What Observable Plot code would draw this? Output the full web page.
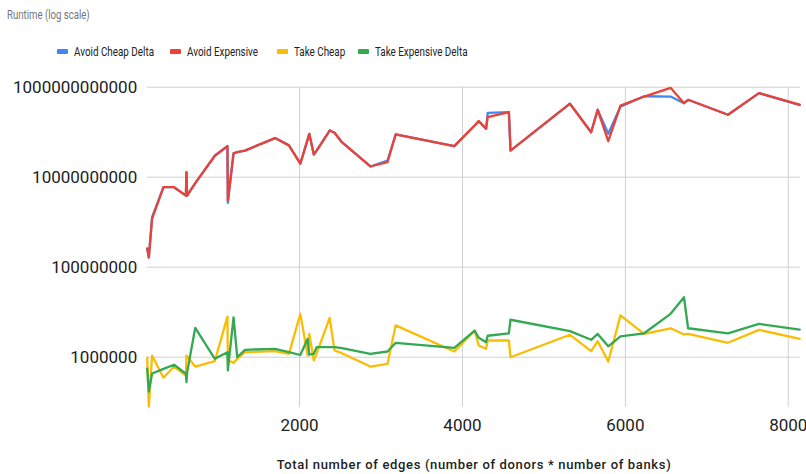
<!DOCTYPE html>
<html>
<head>
<meta charset="utf-8">
<script src="https://cdn.jsdelivr.net/npm/d3@7"></script>
<script src="https://cdn.jsdelivr.net/npm/@observablehq/plot@0.6"></script>
<style>
  html, body { margin: 0; padding: 0; background: #fff; }
  #wrap { position: relative; width: 806px; height: 474px; overflow: hidden; }
  #title { position: absolute; left: 7px; top: 8px; font: 12px "Roboto", sans-serif; color: #757575; white-space: nowrap; transform: scaleX(0.8); transform-origin: 0 50%; }
  .leg { position: absolute; top: 43px; font: 13.5px "Roboto", sans-serif; color: #222; white-space: nowrap; transform: scaleX(0.73); transform-origin: 0 50%; }
  .sw { position: absolute; top: 49px; width: 11px; height: 5px; border-radius: 1px; }
  #xtitle { position: absolute; top: 457px; left: 0; width: 948px; text-align: center; font: 500 13px "Roboto", sans-serif; letter-spacing: 0.65px; color: #222; white-space: nowrap; }
  #chart { position: absolute; left: 0; top: 0; }
</style>
</head>
<body>
<div id="wrap">
  <div id="chart"></div>
  <div id="title">Runtime (log scale)</div>
  <div id="legend"></div>
  <div id="xtitle">Total number of edges (number of donors * number of banks)</div>
</div>
<script>
// Total number of edges for each run
const edges = [130, 150, 190, 330, 460, 605, 612, 620, 720, 960, 1115, 1120, 1190, 1235, 1330,
  1700, 1870, 2010, 2100, 2120, 2175, 2210, 2370, 2430, 2520, 2870, 3080, 3180, 3900, 4150,
  4200, 4290, 4310, 4570, 4590, 5320, 5580, 5660, 5790, 5940, 6230, 6555, 6720, 6770, 7260,
  7640, 8140];

// Runtime of each strategy
const avoidCheapDelta = [2.6e8, 1.65e8, 1.3e9, 6.0e9, 6.0e9, 3.9e9, 1.29e10, 3.9e9, 7.4e9, 3.0e10,
  4.9e10, 2.7e9, 3.4e10, 3.6e10, 3.9e10, 7.4e10, 5.1e10, 2.0e10, 6.9e10, 9.2e10, 3.2e10, 3.9e10,
  1.09e11, 9.7e10, 6.0e10, 1.73e10, 2.35e10, 8.9e10, 4.9e10, 1.41e11, 1.76e11, 1.19e11, 2.7e11,
  2.8e11, 3.9e10, 4.3e11, 1.0e11, 3.15e11, 9.2e10, 3.7e11, 6.3e11, 6.2e11, 4.4e11, 5.25e11,
  2.44e11, 7.4e11, 4.0e11];
const avoidExpensive = [2.6e8, 1.65e8, 1.2e9, 6.0e9, 6.0e9, 3.9e9, 1.29e10, 3.9e9, 7.4e9, 3.0e10,
  4.9e10, 3.0e9, 3.4e10, 3.6e10, 3.9e10, 7.4e10, 5.1e10, 2.0e10, 6.9e10, 9.2e10, 3.2e10, 3.9e10,
  1.09e11, 9.7e10, 6.0e10, 1.73e10, 2.15e10, 8.9e10, 4.9e10, 1.41e11, 1.76e11, 1.19e11, 2.15e11,
  2.8e11, 3.9e10, 4.3e11, 1.0e11, 3.15e11, 6.3e10, 3.9e11, 6.2e11, 9.7e11, 4.4e11, 5.25e11,
  2.44e11, 7.4e11, 4.1e11];
const takeCheap = [9.8e5, 8.0e4, 1.09e6, 3.5e5, 6.2e5, 3.9e5, 1.09e6, 1.05e6, 6.2e5, 8.2e5,
  8.0e6, 8.7e5, 7.4e5, 9.2e5, 1.29e6, 1.36e6, 1.19e6, 9.2e6, 1.09e6, 3.3e6, 8.5e5, 1.22e6,
  7.5e6, 1.41e6, 1.23e6, 6.2e5, 7.1e5, 5.1e6, 1.34e6, 3.9e6, 1.82e6, 1.54e6, 2.35e6, 2.35e6,
  1.0e6, 3.15e6, 1.36e6, 2.27e6, 8.0e5, 8.5e6, 3.3e6, 4.4e6, 3.2e6, 3.3e6, 2.09e6, 4.06e6, 2.56e6];
const takeExpensiveDelta = [5.6e5, 1.73e5, 4.35e5, 5.5e5, 6.8e5, 4.3e5, 2.8e5, 4.6e5, 4.5e6, 9.2e5,
  1.29e6, 5.1e5, 7.7e6, 1.0e6, 1.46e6, 1.54e6, 1.29e6, 1.12e6, 2.56e6, 1.14e6, 1.19e6, 1.67e6,
  1.67e6, 1.67e6, 1.6e6, 1.19e6, 1.34e6, 2.09e6, 1.62e6, 3.9e6, 2.7e6, 2.15e6, 3.0e6, 3.4e6,
  6.8e6, 3.8e6, 2.44e6, 3.3e6, 1.75e6, 2.9e6, 3.4e6, 9.2e6, 2.15e7, 4.4e6, 3.4e6, 5.5e6, 4.1e6];

const seriesNames = ["Avoid Cheap Delta", "Avoid Expensive", "Take Cheap", "Take Expensive Delta"];
const seriesColors = ["#4285f4", "#ea4335", "#fbbc04", "#34a853"];
const seriesValues = [avoidCheapDelta, avoidExpensive, takeCheap, takeExpensiveDelta];

const xTicks = [2000, 4000, 6000, 8000];
const yTicks = [1e6, 1e8, 1e10, 1e12];

const rowsFor = (vals) => edges.map((x, i) => ({x, y: vals[i]}));

const chart = Plot.plot({
  width: 806,
  height: 474,
  marginTop: 86.7,
  marginLeft: 146.7,
  marginRight: 6,
  marginBottom: 67.3,
  style: {fontFamily: "Roboto, sans-serif", fontSize: "17px", color: "#222", background: "transparent"},
  x: {domain: [130, 8150]},
  y: {type: "log", domain: [7.75e4, 1e12]},
  marks: [
    Plot.gridY(yTicks, {stroke: "#d0d0d0", strokeOpacity: 1, strokeWidth: 1}),
    Plot.gridX(xTicks, {stroke: "#d0d0d0", strokeOpacity: 1, strokeWidth: 1}),
    Plot.axisX(xTicks, {tickSize: 0, tickPadding: 12, label: null, tickFormat: d => String(d)}),
    Plot.axisY(yTicks, {tickSize: 0, tickPadding: 10, label: null, tickFormat: d => String(d)}),
    ...seriesValues.map((vals, i) =>
      Plot.line(rowsFor(vals), {x: "x", y: "y", stroke: seriesColors[i], strokeWidth: 2.3})
    )
  ]
});
document.getElementById("chart").appendChild(chart);

// Legend row
const legendPos = [57, 170, 277, 358];
const legend = document.getElementById("legend");
seriesNames.forEach((name, i) => {
  const sw = document.createElement("div");
  sw.className = "sw";
  sw.style.left = legendPos[i] + "px";
  sw.style.background = seriesColors[i];
  legend.appendChild(sw);
  const t = document.createElement("div");
  t.className = "leg";
  t.style.left = (legendPos[i] + 17) + "px";
  t.textContent = name;
  legend.appendChild(t);
});
</script>
</body>
</html>
